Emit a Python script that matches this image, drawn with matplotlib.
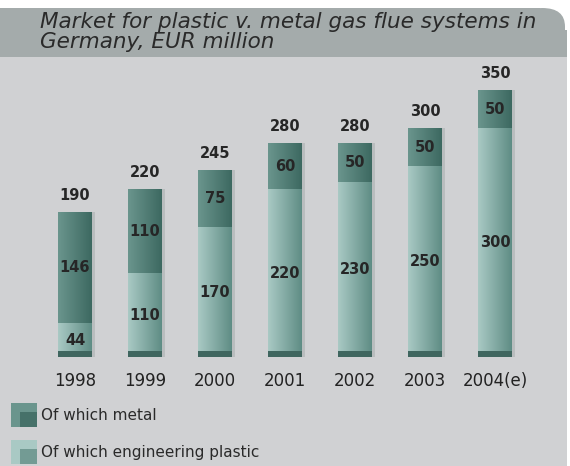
import numpy as np
import matplotlib.pyplot as plt
from matplotlib.patches import Rectangle, FancyBboxPatch
from matplotlib.colors import LinearSegmentedColormap

# Data
years = ["1998", "1999", "2000", "2001", "2002", "2003", "2004(e)"]
plastic = [44, 110, 170, 220, 230, 250, 300]
metal = [146, 110, 75, 60, 50, 50, 50]
totals = [190, 220, 245, 280, 280, 300, 350]

W, H = 570, 466
fig = plt.figure(figsize=(W / 100, H / 100), dpi=100)
fig.patch.set_facecolor("white")

def fx(px):
    return px / W

def fy(py):
    return 1 - py / H

# light grey panel
fig.patches.append(Rectangle((0, 0), fx(567), fy(57), transform=fig.transFigure,
                             facecolor="#d0d1d3", edgecolor="none", zorder=0))
# title band with rounded top-right corner
band = "#a4abab"
fig.patches.append(Rectangle((0, fy(57)), fx(540), fy(8) - fy(57), transform=fig.transFigure,
                             facecolor=band, edgecolor="none", zorder=0))
fig.patches.append(FancyBboxPatch((fx(520), fy(57)), fx(45), fy(8) - fy(57),
                                  boxstyle="round,pad=0,rounding_size=0.04",
                                  transform=fig.transFigure, facecolor=band,
                                  edgecolor="none", zorder=0))
fig.patches.append(Rectangle((fx(520), fy(57)), fx(47), fy(30) - fy(57), transform=fig.transFigure,
                             facecolor=band, edgecolor="none", zorder=0))

fig.text(fx(40), fy(32), "Market for plastic v. metal gas flue systems in\nGermany, EUR million",
         fontsize=15.5, style="italic", color="#2a2a2a", va="center", ha="left",
         family="DejaVu Sans", linespacing=1.05)

# axes in pixel layout
ax = fig.add_axes([fx(5), fy(357), fx(560), fy(60) - fy(357)])
ax.set_zorder(2)
ax.set_facecolor("none")
ax.axis("off")

x = np.arange(len(years))
bw = 0.48
col_plastic = "#7ea8a1"
col_metal = "#4b7b72"

# shadow
ax.bar(x + 0.05, totals, width=bw, color="#b9bdbe", zorder=1)
bp = ax.bar(x, plastic, width=bw, color=col_plastic, zorder=2)
bm = ax.bar(x, metal, width=bw, bottom=plastic, color=col_metal, zorder=2)

# horizontal gradient light -> dark across each bar
grad = np.linspace(0, 1, 64).reshape(1, -1)
for patches, cmap_cols in ((bp, ["#a9c9c4", "#5f8d85"]), (bm, ["#6a958d", "#3d6961"])):
    cm = LinearSegmentedColormap.from_list("g", cmap_cols)
    for p in patches:
        x0, y0 = p.get_x(), p.get_y()
        im = ax.imshow(grad, cmap=cm, aspect="auto", zorder=3,
                       extent=(x0, x0 + p.get_width(), y0, y0 + p.get_height()))
        im.set_clip_path(p)
# dark foot of each bar
ax.bar(x, [8] * len(x), width=bw, color="#3f665f", zorder=4)
ax.set_xlim(-1, 7)
ax.set_ylim(0, (357 - 60) / 0.763)

lab = dict(ha="center", va="center", fontsize=10.5, fontweight="bold", color="#262626", zorder=5)
for i in range(len(years)):
    ax.text(x[i], plastic[i] / 2, str(plastic[i]), **lab)
    ax.text(x[i], plastic[i] + metal[i] / 2, str(metal[i]), **lab)
    ax.text(x[i], totals[i] + 22, str(totals[i]), **lab)
    ax.text(x[i], -31, years[i], ha="center", va="center", fontsize=12,
            color="#222222", clip_on=False)

# legend
for py, c1, c2, txt in ((415, "#6a958d", "#2f5a52", "Of which metal"),
                        (452, "#a9c9c4", "#4f7d75", "Of which engineering plastic")):
    fig.patches.append(Rectangle((fx(11), fy(py + 12)), fx(26), fy(py - 12) - fy(py + 12),
                                 transform=fig.transFigure, facecolor=c1, edgecolor="none", zorder=2))
    fig.patches.append(Rectangle((fx(20), fy(py + 12)), fx(17), fy(py - 3) - fy(py + 12),
                                 transform=fig.transFigure, facecolor=c2, edgecolor="none", zorder=2,
                                 alpha=0.6))
    fig.text(fx(41), fy(py), txt, fontsize=11, color="#2a2a2a", va="center", ha="left")

fig.savefig("out.png", dpi=100, facecolor=fig.get_facecolor())
